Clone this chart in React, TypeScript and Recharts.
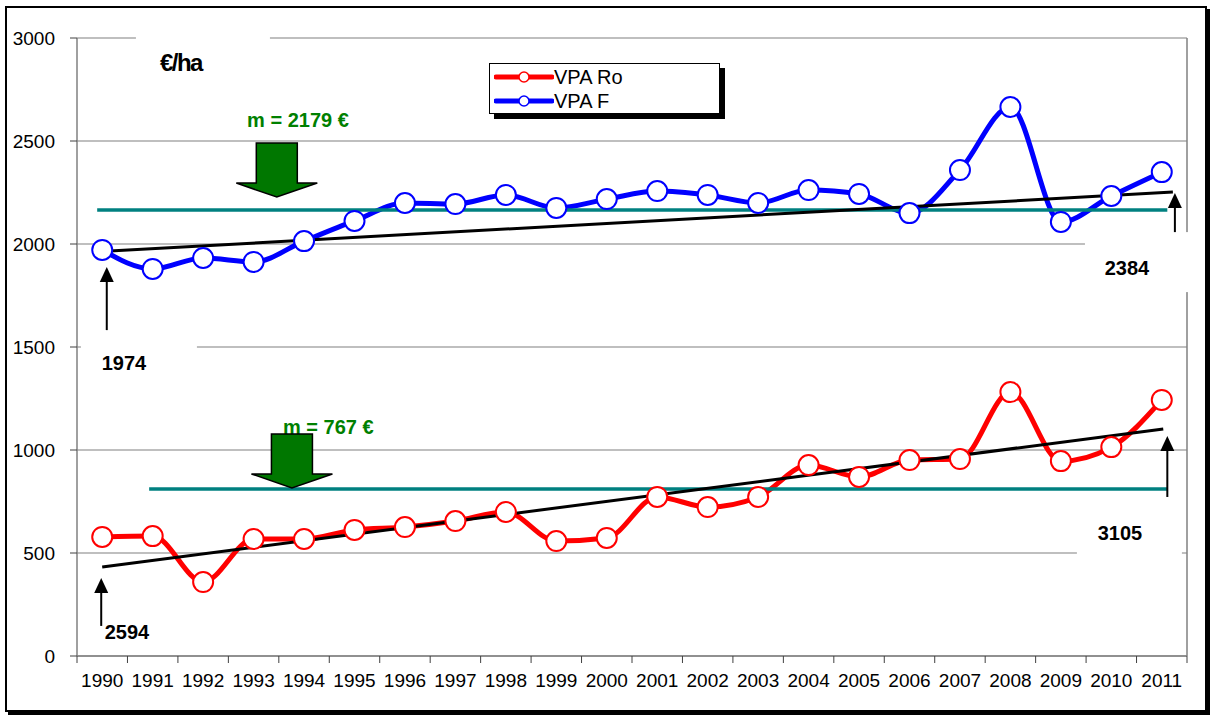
import {
  LineChart,
  Line,
  XAxis,
  YAxis,
  CartesianGrid,
  ReferenceLine,
  ReferenceDot,
  Legend,
} from "recharts";

// values
const years = [
  1990, 1991, 1992, 1993, 1994, 1995, 1996, 1997, 1998, 1999, 2000, 2001,
  2002, 2003, 2004, 2005, 2006, 2007, 2008, 2009, 2010, 2011,
];
const vpaRo = [
  578, 582, 359, 568, 568, 612, 626, 655, 699, 558, 573, 772, 723, 772, 927,
  869, 951, 956, 1281, 946, 1014, 1243,
];
const vpaF = [
  1971, 1879, 1932, 1913, 2014, 2112, 2199, 2194, 2238, 2175, 2218, 2257, 2238,
  2199, 2262, 2243, 2150, 2359, 2665, 2107, 2233, 2349,
];
const yTicks = [0, 500, 1000, 1500, 2000, 2500, 3000];

// straight annotation lines: [x1, y1, x2, y2] in data units
const trendLines = [
  [1990.15, 1966, 2011.22, 2252],
  [1990.0, 432, 2011.03, 1102],
];
const meanLines = [
  [1989.9, 2165, 2011.11, 2165],
  [1990.93, 811, 2011.11, 811],
];
// black pointer arrows: x, bottom value, tip value
const pointers = [
  [1990.09, 1582, 1888],
  [1989.98, 146, 379],
  [2011.26, 1946, 2247],
  [2011.11, 772, 1068],
];
// value labels: text, x, y, white box [left, top, width, height]
const valueLabels = [
  { text: "1974", x: 1990.43, y: 1422, box: [-43, -25, 116, 43] },
  { text: "2384", x: 2010.31, y: 1883, box: [-42, -36, 108, 60] },
  { text: "3105", x: 2010.17, y: 597, box: [-43, -20, 105, 48] },
  { text: "2594", x: 1990.49, y: 117, box: null },
];
const meanLabels = [
  { text: "m = 2179 €", x: 1993.88, y: 2602 },
  { text: "m = 767 €", x: 1994.48, y: 1112 },
];
const greenArrows = [
  { x: 1993.46, y: 2490 },
  { x: 1993.76, y: 1078 },
];

const data = years.map((year, i) => ({ year, ro: vpaRo[i], f: vpaF[i] }));

const W = 1210;
const H = 715;
const margin = { top: 38, right: 23, left: 17, bottom: 19 };
const yAxisW = 60;
const plotW = W - margin.left - margin.right - yAxisW;
const band = plotW / years.length;
const font = '"Liberation Sans", Arial, sans-serif';
const RED = "#ff0000";
const BLUE = "#0000ff";
const TEAL = "#008080";
const GREEN = "#008000";
const GRID = "#808080";

const boundaries = [...years.map((y) => y - 0.5), years[years.length - 1] + 0.5];

function YearTick(props: any) {
  const { x, y, payload } = props;
  const label = payload.value + 0.5;
  if (label > years[years.length - 1]) return null;
  return (
    <text
      x={x + band / 2}
      y={y}
      dy="0.71em"
      textAnchor="middle"
      fontSize={19}
      fontFamily={font}
      fill="#000"
    >
      {label}
    </text>
  );
}

function PointerArrow(props: any) {
  const { x1, y1, x2, y2 } = props;
  return (
    <g>
      <line x1={x1} y1={y1} x2={x2} y2={y2 + 12} stroke="#000" strokeWidth={2} />
      <polygon
        points={`${x2},${y2} ${x2 - 7},${y2 + 15} ${x2 + 7},${y2 + 15}`}
        fill="#000"
      />
    </g>
  );
}

function GreenArrow(props: any) {
  const { cx, cy } = props;
  const sw = 20.5;
  const hw = 40.5;
  const sh = 40;
  const hh = 14;
  const pts = [
    [cx - sw, cy],
    [cx + sw, cy],
    [cx + sw, cy + sh],
    [cx + hw, cy + sh],
    [cx, cy + sh + hh],
    [cx - hw, cy + sh],
    [cx - sw, cy + sh],
  ]
    .map((p) => p.join(","))
    .join(" ");
  return <polygon points={pts} fill="#007700" stroke="#000" strokeWidth={1.5} />;
}

function BoxedLabel(text: string, box: number[] | null, color: string, size: number) {
  return (props: any) => {
    const { cx, cy } = props;
    return (
      <g>
        {box && (
          <rect x={cx + box[0]} y={cy + box[1]} width={box[2]} height={box[3]} fill="#fff" />
        )}
        <text
          x={cx}
          y={cy}
          dy="0.35em"
          textAnchor="middle"
          fontSize={size}
          fontWeight="bold"
          fontFamily={font}
          fill={color}
        >
          {text}
        </text>
      </g>
    );
  };
}

function UnitLabel(props: any) {
  const { cx, cy } = props;
  return (
    <g>
      <rect x={cx - 45} y={cy - 30} width={134} height={62} fill="#fff" />
      <text
        x={cx}
        y={cy}
        dy="0.35em"
        textAnchor="middle"
        fontSize={24}
        fontWeight="bold"
        fontFamily={font}
        letterSpacing={-1.5}
        fill="#000"
      >
        €/ha
      </text>
    </g>
  );
}

function LegendBox() {
  const rows = [
    { name: "VPA Ro", color: RED },
    { name: "VPA F", color: BLUE },
  ];
  return (
    <div
      style={{
        width: 231,
        height: 51,
        border: "1px solid #000",
        background: "#fff",
        boxShadow: "5px 5px 0 #000",
        fontFamily: font,
        fontSize: 20,
        boxSizing: "border-box",
        paddingTop: 1,
      }}
    >
      {rows.map((r) => (
        <div key={r.name} style={{ display: "flex", alignItems: "center", height: 24 }}>
          <svg width={60} height={14} style={{ marginLeft: 4 }}>
            <line x1={2} y1={7} x2={58} y2={7} stroke={r.color} strokeWidth={5} strokeLinecap="round" />
            <circle cx={30} cy={7} r={5} fill="#fff" stroke={r.color} strokeWidth={1.5} />
          </svg>
          <span style={{ color: "#000", lineHeight: "24px" }}>{r.name}</span>
        </div>
      ))}
    </div>
  );
}

export default function App() {
  return (
    <div style={{ position: "absolute", left: 0, top: 0, width: W, height: H, background: "#fff" }}>
      <div
        style={{
          position: "absolute",
          left: 5,
          top: 6,
          width: 1202,
          height: 706,
          border: "2px solid #000",
          boxShadow: "3px 3px 0 #000",
          boxSizing: "border-box",
        }}
      />
      <div style={{ position: "absolute", left: 0, top: 0 }}>
        <LineChart width={W} height={H} data={data} margin={margin}>
          <CartesianGrid horizontal vertical={false} stroke={GRID} strokeWidth={1.2} />
          <XAxis
            dataKey="year"
            type="number"
            domain={[boundaries[0], boundaries[boundaries.length - 1]]}
            ticks={boundaries}
            interval={0}
            tick={<YearTick />}
            tickSize={7}
            tickMargin={11}
            height={40}
            stroke={GRID}
            axisLine={{ stroke: GRID, strokeWidth: 1.5 }}
            tickLine={{ stroke: "#404040" }}
          />
          <YAxis
            domain={[0, 3000]}
            ticks={yTicks}
            interval={0}
            width={yAxisW}
            tickSize={7}
            tickMargin={15}
            tick={{ fill: "#000", fontSize: 19, fontFamily: font }}
            axisLine={{ stroke: GRID, strokeWidth: 1.5 }}
            tickLine={{ stroke: "#404040" }}
          />
          <ReferenceLine x={boundaries[boundaries.length - 1]} stroke={GRID} strokeWidth={1.5} />
          <Line
            dataKey="ro"
            name="VPA Ro"
            type="monotone"
            stroke={RED}
            strokeWidth={5}
            dot={{ r: 10, fill: "#fff", stroke: RED, strokeWidth: 2 }}
            activeDot={false}
            isAnimationActive={false}
          />
          <Line
            dataKey="f"
            name="VPA F"
            type="monotone"
            stroke={BLUE}
            strokeWidth={5}
            dot={{ r: 10, fill: "#fff", stroke: BLUE, strokeWidth: 2 }}
            activeDot={false}
            isAnimationActive={false}
          />
          {meanLines.map((m, i) => (
            <ReferenceLine
              key={"m" + i}
              segment={[
                { x: m[0], y: m[1] },
                { x: m[2], y: m[3] },
              ]}
              stroke={TEAL}
              strokeWidth={3.5}
            />
          ))}
          {trendLines.map((t, i) => (
            <ReferenceLine
              key={"t" + i}
              segment={[
                { x: t[0], y: t[1] },
                { x: t[2], y: t[3] },
              ]}
              stroke="#000"
              strokeWidth={3}
            />
          ))}
          {pointers.map((p, i) => (
            <ReferenceLine
              key={"p" + i}
              segment={[
                { x: p[0], y: p[1] },
                { x: p[0], y: p[2] },
              ]}
              shape={<PointerArrow />}
            />
          ))}
          {valueLabels.map((l) => (
            <ReferenceDot
              key={l.text}
              x={l.x}
              y={l.y}
              r={1}
              shape={BoxedLabel(l.text, l.box, "#000", 20)}
            />
          ))}
          <ReferenceDot x={1991.56} y={2883} r={1} shape={<UnitLabel />} />
          {meanLabels.map((l) => (
            <ReferenceDot
              key={l.text}
              x={l.x}
              y={l.y}
              r={1}
              shape={BoxedLabel(l.text, null, GREEN, 20)}
            />
          ))}
          {greenArrows.map((a, i) => (
            <ReferenceDot key={"g" + i} x={a.x} y={a.y} r={1} shape={<GreenArrow />} />
          ))}
          <Legend
            layout="horizontal"
            verticalAlign="middle"
            align="center"
            content={<LegendBox />}
            wrapperStyle={{ left: 489, top: 63, width: 236, height: 56 }}
          />
        </LineChart>
      </div>
    </div>
  );
}
